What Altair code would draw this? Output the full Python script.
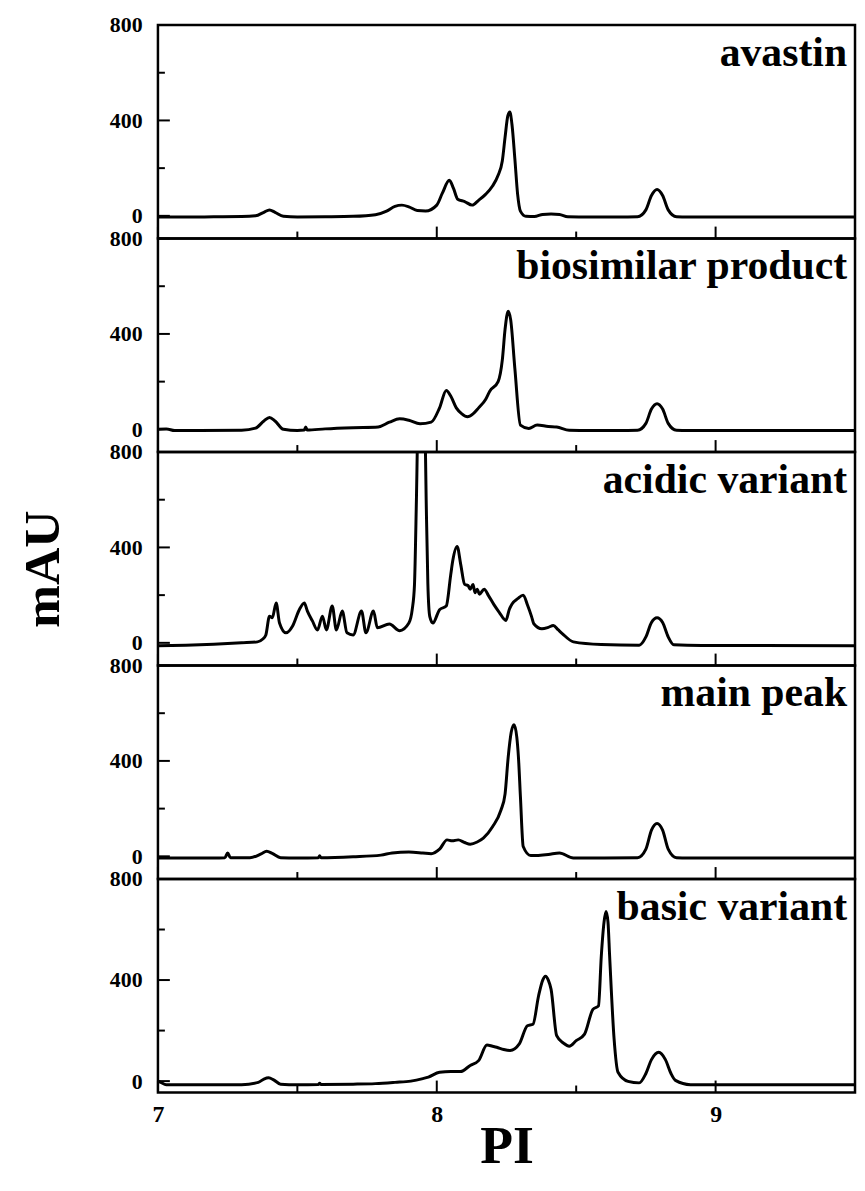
import altair as alt
import pandas as pd

FONT = "Liberation Serif"

samples = ["avastin", "biosimilar product", "acidic variant", "main peak", "basic variant"]

avastin_x = [7.00, 7.10, 7.20, 7.30, 7.35, 7.38, 7.40, 7.42, 7.45, 7.50, 7.60, 7.70, 7.78, 7.82,
             7.85, 7.875, 7.90, 7.93, 7.96, 8.00, 8.02, 8.045, 8.06, 8.075, 8.10, 8.127, 8.15,
             8.175, 8.20, 8.22, 8.235, 8.245, 8.255, 8.262, 8.27, 8.28, 8.29, 8.30, 8.32, 8.35,
             8.38, 8.41, 8.44, 8.47, 8.55, 8.65, 8.72, 8.75, 8.77, 8.79, 8.81, 8.83, 8.86, 8.90,
             9.0, 9.2, 9.5]
avastin_y = [-5, -5, -4, -3, 0, 15, 25, 15, -2, -5, -4, -2, 5, 20,
             40, 45, 38, 22, 20, 45, 95, 149, 115, 70, 60, 45, 65,
             90, 125, 170, 230, 330, 420, 435, 380, 240, 90, 20, -2, -3,
             6, 8, 6, -4, -5, -5, -4, 25, 85, 110, 85, 25, -4, -5,
             -5, -5, -5]

biosimilar_x = [7.00, 7.03, 7.06, 7.15, 7.30, 7.35, 7.38, 7.40, 7.42, 7.45, 7.50, 7.525, 7.53,
                7.535, 7.60, 7.70, 7.79, 7.83, 7.867, 7.90, 7.94, 7.98, 8.01, 8.034, 8.05, 8.07,
                8.09, 8.11, 8.13, 8.15, 8.175, 8.19, 8.22, 8.235, 8.245, 8.256, 8.265, 8.28,
                8.30, 8.33, 8.36, 8.40, 8.43, 8.475, 8.55, 8.65, 8.72, 8.75, 8.77, 8.79, 8.81,
                8.83, 8.86, 8.90, 9.2, 9.5]
biosimilar_y = [0, 2, -5, -5, -4, 5, 35, 50, 35, 0, -5, -3, 10,
                -3, 2, 7, 10, 30, 44, 38, 23, 30, 90, 163, 140, 90,
                65, 53, 65, 90, 125, 160, 200, 290, 420, 495, 460, 256,
                18, 4, 18, 12, 10, -4, -5, -5, -4, 25, 85, 107, 85,
                25, -4, -5, -5, -5]

acidic_x = [7.00, 7.10, 7.20, 7.30, 7.357, 7.375, 7.387, 7.40, 7.41, 7.424, 7.436, 7.459,
            7.483, 7.507, 7.525, 7.536, 7.554, 7.572, 7.59, 7.604, 7.625, 7.64, 7.661, 7.678,
            7.70, 7.73, 7.746, 7.773, 7.787, 7.83, 7.867, 7.90, 7.912, 7.92, 7.927, 7.935,
            7.945, 7.955, 7.962, 7.968, 7.975, 7.986, 8.01, 8.034, 8.05, 8.057, 8.073, 8.086,
            8.10, 8.112, 8.12, 8.13, 8.137, 8.145, 8.153, 8.17, 8.186, 8.205, 8.224, 8.248,
            8.26, 8.27, 8.29, 8.31, 8.325, 8.34, 8.348, 8.377, 8.40, 8.418, 8.435, 8.45, 8.49,
            8.59, 8.726, 8.75, 8.77, 8.79, 8.81, 8.83, 8.85, 8.95, 9.5]
acidic_y = [-12, -10, -6, 0, 4, 15, 33, 112, 105, 167, 83, 42,
            71, 139, 167, 133, 92, 54, 112, 54, 154, 54, 133, 42,
            33, 133, 42, 133, 63, 79, 51, 83, 140, 242, 600, 1100,
            1250, 1100, 600, 250, 110, 83, 139, 154, 285, 342, 404, 328,
            245, 240, 225, 245, 210, 225, 204, 225, 197, 160, 128, 94,
            140, 163, 185, 200, 160, 110, 80, 59, 65, 73, 55, 39, 4,
            -7, -10, 25, 85, 105, 85, 25, -8, -11, -12]

main_x = [7.00, 7.10, 7.20, 7.24, 7.25, 7.26, 7.33, 7.37, 7.39, 7.41, 7.44, 7.50, 7.575, 7.58,
          7.585, 7.70, 7.80, 7.84, 7.90, 7.95, 7.98, 8.01, 8.037, 8.055, 8.077, 8.10, 8.12,
          8.145, 8.167, 8.20, 8.23, 8.245, 8.256, 8.267, 8.277, 8.287, 8.293, 8.30, 8.31,
          8.337, 8.40, 8.44, 8.49, 8.60, 8.72, 8.75, 8.77, 8.79, 8.81, 8.83, 8.86, 8.90,
          9.2, 9.5]
main_y = [-7, -7, -7, -6, 14, -6, -6, 10, 21, 12, -6, -7, -6, 2,
          -6, -2, 5, 14, 18, 14, 11, 30, 69, 65, 69, 58, 51,
          60, 76, 124, 193, 262, 414, 520, 552, 500, 414, 250, 41,
          3, 8, 14, -7, -7, -6, 30, 110, 138, 110, 30, -6, -7,
          -7, -7]

basic_x = [7.00, 7.01, 7.03, 7.10, 7.30, 7.36, 7.38, 7.397, 7.415, 7.44, 7.50, 7.575, 7.58,
           7.585, 7.70, 7.78, 7.85, 7.907, 7.95, 7.97, 8.01, 8.05, 8.085, 8.12, 8.15, 8.18,
           8.20, 8.215, 8.24, 8.263, 8.296, 8.325, 8.345, 8.365, 8.38, 8.39, 8.40, 8.41,
           8.43, 8.455, 8.475, 8.50, 8.53, 8.56, 8.58, 8.59, 8.60, 8.607, 8.614, 8.62,
           8.636, 8.65, 8.686, 8.726, 8.75, 8.77, 8.796, 8.82, 8.84, 8.856, 8.91, 9.0, 9.5]
basic_y = [0, -5, -14, -14, -14, -5, 8, 13, 5, -12, -14, -13, -8,
           -13, -12, -10, -5, 0, 10, 16, 35, 38, 38, 62, 81, 143,
           138, 134, 125, 121, 147, 219, 225, 337, 400, 415, 400, 363,
           180, 150, 138, 160, 186, 284, 298, 494, 630, 671, 630, 494,
           166, 35, -1, -7, 30, 85, 114, 85, 30, 3, -14, -14, -14]

series_x = [avastin_x, biosimilar_x, acidic_x, main_x, basic_x]
series_y = [avastin_y, biosimilar_y, acidic_y, main_y, basic_y]
y_min = [-95, -95, -95, -95, -45]

x_major = [7, 8, 9]
x_minor = [7.5, 8.5]
y_major = [0, 400, 800]
y_minor = [200, 600]

x_title = "PI"
y_title = "mAU"

W = 702
H = 215


def panel(i):
    last = i == len(samples) - 1
    middle = i == len(samples) // 2
    xscale = alt.Scale(domain=[7, 9.5], nice=False, zero=False)
    yscale = alt.Scale(domain=[y_min[i], 800], nice=False, zero=False)
    if last:
        xaxis = alt.Axis(values=x_major, ticks=False, domain=False, grid=False,
                         labelFlush=False, format="d", title=x_title, labelPadding=10,
                         labelFontSize=24, titlePadding=-6, titleFontSize=54)
    else:
        xaxis = None
    yaxis_args = dict(values=y_major, ticks=False, domain=False, grid=False,
                      labelFlush=False, format="d", labelPadding=16)
    if middle:
        yaxis = alt.Axis(title=y_title, titleFontSize=52, titlePadding=40,
                         titleY=H / 2 + 10, **yaxis_args)
    else:
        yaxis = alt.Axis(title=None, **yaxis_args)

    df = pd.DataFrame({"pi": series_x[i], "mau": series_y[i]})
    line = alt.Chart(df).mark_line(
        color="black", strokeWidth=3, interpolate="monotone", clip=True
    ).encode(
        x=alt.X("pi:Q", scale=xscale, axis=xaxis),
        y=alt.Y("mau:Q", scale=yscale, axis=yaxis),
    )
    ymaj = alt.Chart(pd.DataFrame({"mau": y_major})).mark_rule(color="black", strokeWidth=2).encode(
        y=alt.Y("mau:Q", scale=yscale, axis=yaxis), x=alt.value(0), x2=alt.value(12))
    ymin = alt.Chart(pd.DataFrame({"mau": y_minor})).mark_rule(color="black", strokeWidth=2).encode(
        y=alt.Y("mau:Q", scale=yscale, axis=yaxis), x=alt.value(0), x2=alt.value(7))
    xmaj = alt.Chart(pd.DataFrame({"pi": x_major})).mark_rule(color="black", strokeWidth=2).encode(
        x=alt.X("pi:Q", scale=xscale, axis=xaxis), y=alt.value(H), y2=alt.value(H - 12))
    xmin = alt.Chart(pd.DataFrame({"pi": x_minor})).mark_rule(color="black", strokeWidth=2).encode(
        x=alt.X("pi:Q", scale=xscale, axis=xaxis), y=alt.value(H), y2=alt.value(H - 7))
    label = alt.Chart(pd.DataFrame({"name": [samples[i]]})).mark_text(
        align="right", baseline="alphabetic", font=FONT, fontSize=42, fontWeight="bold",
        color="black"
    ).encode(text="name:N", x=alt.value(W - 8), y=alt.value(41))
    return alt.layer(line, ymaj, ymin, xmaj, xmin, label).properties(width=W, height=H)


chart = alt.vconcat(*[panel(i) for i in range(len(samples))], spacing=0, bounds="flush").properties(
    padding={"left": 7, "top": 0, "right": 0, "bottom": 0},
).configure_view(
    stroke="black", strokeWidth=2.5
).configure_axis(
    labelFont=FONT, labelFontSize=22, labelFontWeight="bold", labelColor="black",
    titleFont=FONT, titleFontWeight="bold", titleColor="black",
)

chart.save("out.html", embed_options={"renderer": "svg", "actions": False})
